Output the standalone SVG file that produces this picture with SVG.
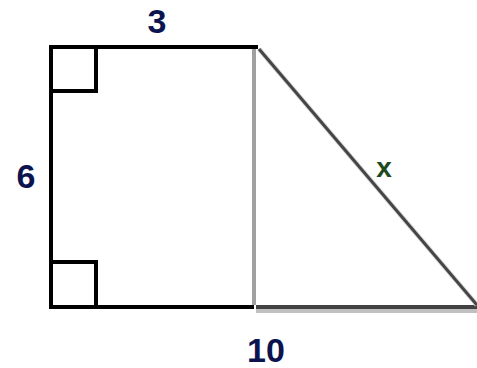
<svg xmlns="http://www.w3.org/2000/svg" width="477" height="368" viewBox="0 0 477 368">
<style>
.blk{stroke:#000;stroke-width:4;fill:none;stroke-linecap:square}
.lbl{font-family:"Liberation Sans",Arial,sans-serif;font-weight:bold;fill:#0c1450}
</style>
<rect width="477" height="368" fill="#fff"/>
<g id="shape">
<line x1="256" y1="307" x2="477" y2="307" stroke="#424242" stroke-width="4"/>
<line x1="256" y1="311" x2="477" y2="311" stroke="#c0c0c0" stroke-width="4"/>
<line x1="254" y1="49" x2="254" y2="305" stroke="#a0a0a0" stroke-width="4"/>
<line x1="259" y1="49" x2="477" y2="305" stroke="#d8d8d8" stroke-width="5"/>
<line x1="259" y1="49" x2="477" y2="305" stroke="#454545" stroke-width="3"/>
<polyline class="blk" points="256,47 51,47 51,307 252,307"/>
</g>
<g id="right-angle-top"><polyline class="blk" points="51,91 96,91 96,47"/></g>
<g id="right-angle-bottom"><polyline class="blk" points="51,262 96,262 96,307"/></g>
<g id="labels">
<text class="lbl" x="157" y="33" font-size="34" text-anchor="middle">3</text>
<text class="lbl" x="26" y="188" font-size="34" text-anchor="middle">6</text>
<text class="lbl" x="384" y="177" font-size="28" text-anchor="middle" style="fill:#1d4a1d">x</text>
<text class="lbl" x="266" y="362" font-size="34" text-anchor="middle">10</text>
</g>
</svg>
